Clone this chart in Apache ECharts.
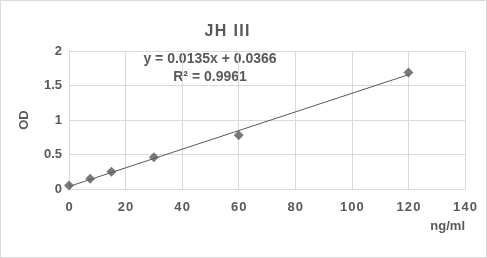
<!DOCTYPE html>
<html><head><meta charset="utf-8">
<script src="https://cdn.jsdelivr.net/npm/echarts@6/dist/echarts.min.js"></script>
<style>html,body{margin:0;padding:0;background:#fff}#c{width:487px;height:258px}</style>
</head><body><div id="c"></div>
<script>
const xValues = [0, 7.5, 15, 30, 60, 120];
const odValues = [0.05, 0.15, 0.25, 0.46, 0.78, 1.69];
const trendX = [0, 120];
const trendY = [0.0366, 1.6566];
const xTicks = [0, 20, 40, 60, 80, 100, 120, 140];
const yTicks = [0, 0.5, 1, 1.5, 2];
const titleText = 'JH III';
const eqText = 'y = 0.0135x + 0.0366';
const r2Text = 'R² = 0.9961';

const gray = '#595959';
const font = 'Liberation Sans, Arial, sans-serif';
const spaced = s => s.split('').join('\u200A');
const chart = echarts.init(document.getElementById('c'), null, {renderer: 'canvas'});
chart.setOption({
  animation: false,
  backgroundColor: '#fff',
  graphic: [
    {type: 'rect', shape: {x: 0.5, y: 0.5, width: 486, height: 257},
     style: {fill: 'none', stroke: '#d9d9d9', lineWidth: 1}},
    {type: 'text', x: 227, y: 32, style: {text: spaced(titleText), textAlign: 'center', textVerticalAlign: 'middle',
      fill: gray, font: 'bold 16px ' + font}},
    {type: 'text', x: 210, y: 59, style: {text: eqText, textAlign: 'center', textVerticalAlign: 'middle',
      fill: gray, font: 'bold 14px ' + font}},
    {type: 'text', x: 210, y: 77, style: {text: r2Text, textAlign: 'center', textVerticalAlign: 'middle',
      fill: gray, font: 'bold 14px ' + font}}
  ],
  grid: {left: 69, right: 22, top: 51, bottom: 69},
  xAxis: {
    type: 'value', min: 0, max: 140, interval: 20,
    name: 'ng/ml', nameLocation: 'end', nameGap: 0,
    nameTextStyle: {color: gray, fontSize: 13, fontWeight: 'bold', fontFamily: font,
      align: 'right', verticalAlign: 'top', padding: [31, 0, 0, 0]},
    axisLine: {show: true, lineStyle: {color: '#d9d9d9'}},
    axisTick: {show: false},
    axisLabel: {color: gray, fontSize: 13, fontWeight: 'bold', fontFamily: font, margin: 12,
      formatter: v => spaced(String(v))},
    splitLine: {show: true, lineStyle: {color: '#d9d9d9'}}
  },
  yAxis: {
    type: 'value', min: 0, max: 2, interval: 0.5,
    name: 'OD', nameLocation: 'middle', nameGap: 38, nameRotate: 90,
    nameTextStyle: {color: gray, fontSize: 13, fontWeight: 'bold', fontFamily: font},
    axisLine: {show: true, lineStyle: {color: '#d9d9d9'}},
    axisTick: {show: false},
    axisLabel: {color: gray, fontSize: 13, fontWeight: 'bold', fontFamily: font, margin: 7},
    splitLine: {show: true, lineStyle: {color: '#d9d9d9'}}
  },
  series: [
    {type: 'line', data: trendX.map((x, i) => [x, trendY[i]]), symbol: 'none',
     lineStyle: {color: gray, width: 1}, z: 2, silent: true},
    {type: 'scatter', data: xValues.map((x, i) => [x, odValues[i]]), symbol: 'diamond', symbolSize: 10,
     itemStyle: {color: gray}, z: 3}
  ]
});
</script></body></html>
